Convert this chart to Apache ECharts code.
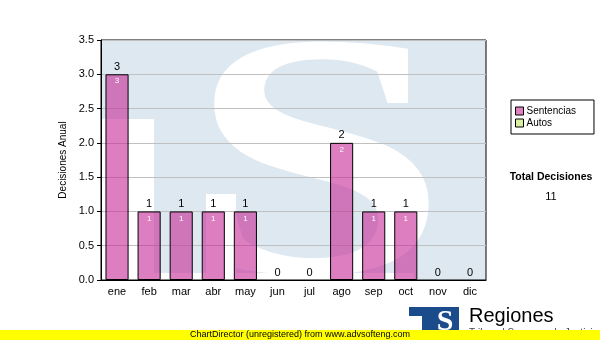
<!DOCTYPE html>
<html>
<head>
<meta charset="utf-8">
<script src="https://cdn.jsdelivr.net/npm/echarts@6/dist/echarts.min.js"></script>
<style>html,body{margin:0;padding:0;background:#fff}#c{width:600px;height:340px}</style>
</head>
<body>
<div id="c"></div>
<script>
var categories = ['ene','feb','mar','abr','may','jun','jul','ago','sep','oct','nov','dic'];
var sentencias = [3,1,1,1,1,0,0,2,1,1,0,0];
var autos = [0,0,0,0,0,0,0,0,0,0,0,0];
var yTicks = [0,0.5,1,1.5,2,2.5,3,3.5];
var seriesNames = ['Sentencias','Autos'];
var totalLabel = 'Total Decisiones';
var yAxisTitle = 'Decisiones Anual';
var footerText = 'ChartDirector (unregistered) from www.advsofteng.com';
var logoTitle = 'Regiones';
var logoSub = 'Tribunal Supremo de Justicia';

var totals = sentencias.map(function(v,i){return v + autos[i];});
var grandTotal = totals.reduce(function(a,b){return a+b;},0);

var F = 'Liberation Sans, Arial, sans-serif';
var chart = echarts.init(document.getElementById('c'), null, {renderer:'canvas'});

function barData(arr){
  return arr.map(function(v){ return v ? v : {value:v, itemStyle:{borderWidth:0}}; });
}

var option = {
  animation: false,
  textStyle: {fontFamily: F},
  grid: {left:101, right:114, top:40, bottom:60, show:true, borderColor:'#000', borderWidth:1, backgroundColor:'transparent'},
  legend: {
    orient:'vertical', left:511, top:100,
    padding:[6,18,6,4], itemGap:2,
    borderColor:'#000', borderWidth:1,
    itemWidth:8, itemHeight:8, itemStyle:{borderColor:'#000', borderWidth:1},
    textStyle:{fontFamily:F, fontSize:10, color:'#000', padding:[0,0,0,-2]},
    data:[
      {name:seriesNames[0], icon:'rect', itemStyle:{color:'#e080c0', borderColor:'#000', borderWidth:1}},
      {name:seriesNames[1], icon:'rect', itemStyle:{color:'#d8f0a0', borderColor:'#000', borderWidth:1}}
    ]
  },
  xAxis: {
    type:'category', data:categories,
    axisLine:{lineStyle:{color:'#000', width:1}},
    axisTick:{alignWithLabel:true, length:4, lineStyle:{color:'#000'}},
    axisLabel:{color:'#000', fontSize:11, margin:6, fontFamily:F}
  },
  yAxis: {
    type:'value', min:0, max:3.5, interval:0.5,
    name:yAxisTitle, nameLocation:'middle', nameGap:20,
    nameTextStyle:{fontSize:10, color:'#000', fontFamily:F},
    axisLine:{show:true, lineStyle:{color:'#000', width:1}},
    axisTick:{show:true, length:4, lineStyle:{color:'#000'}},
    axisLabel:{color:'#000', fontSize:11, margin:7, fontFamily:F, formatter:function(v){return v.toFixed(1);}},
    splitLine:{lineStyle:{color:'#c0c0c0', width:1}}
  },
  series: [
    {
      name:seriesNames[0], type:'bar', stack:'t', data:barData(sentencias), barWidth:'72%',
      itemStyle:{color:'rgba(196,40,150,0.6)', borderColor:'#000', borderWidth:1},
      label:{show:true, position:'insideTop', distance:3, color:'#fff', fontSize:8, fontFamily:F,
        formatter:function(p){return p.value ? String(p.value) : '';}}
    },
    {
      name:seriesNames[1], type:'bar', stack:'t', data:autos, barWidth:'72%',
      itemStyle:{color:'#d8f0a0', borderWidth:0},
      label:{show:true, position:'top', distance:2, color:'#000', fontSize:11, fontFamily:F,
        formatter:function(p){return String(totals[p.dataIndex]);}}
    }
  ],
  graphic: [
    {type:'rect', z:-10, shape:{x:101,y:40,width:385,height:240}, style:{fill:'#dee8f1'}},
    {type:'rect', z:-9, shape:{x:101,y:119,width:53,height:161}, style:{fill:'#fff'}},
    {type:'rect', z:-9, shape:{x:154,y:273,width:260,height:7}, style:{fill:'#fff'}},
    {type:'rect', z:-9, shape:{x:206,y:194,width:30,height:86}, style:{fill:'#fff'}},
    {type:'text', z:-8, x:318, y:182, scaleX:1.35, scaleY:1,
      style:{text:'S', fontFamily:'Liberation Serif, serif', fontWeight:'bold', fontSize:348, fill:'#fff', align:'center', verticalAlign:'middle'}},
    {type:'text', x:551, y:177, style:{text:totalLabel, fontFamily:F, fontWeight:'bold', fontSize:10.5, fill:'#000', align:'center', verticalAlign:'middle'}},
    {type:'text', x:551, y:197, style:{text:String(grandTotal), fontFamily:F, fontSize:11, fill:'#000', align:'center', verticalAlign:'middle'}},
    {type:'rect', shape:{x:409,y:307,width:50,height:26}, style:{fill:'#1a4c8c'}},
    {type:'rect', shape:{x:409,y:316,width:13,height:17}, style:{fill:'#fff'}},
    {type:'text', x:445, y:322, style:{text:'S', fontFamily:'Liberation Serif, serif', fontWeight:'bold', fontSize:30, fill:'#fff', align:'center', verticalAlign:'middle'}},
    {type:'text', x:469, y:316, style:{text:logoTitle, fontFamily:F, fontSize:20, fill:'#000', align:'left', verticalAlign:'middle'}},
    {type:'text', x:469, y:333, style:{text:logoSub, fontFamily:F, fontSize:10, fill:'#444', align:'left', verticalAlign:'middle'}},
    {type:'rect', z:50, shape:{x:0,y:330,width:600,height:10}, style:{fill:'#ffff00'}},
    {type:'text', z:51, x:300, y:335, style:{text:footerText, fontFamily:F, fontSize:9, fill:'#000', align:'center', verticalAlign:'middle'}}
  ]
};
chart.setOption(option);
</script>
</body>
</html>
